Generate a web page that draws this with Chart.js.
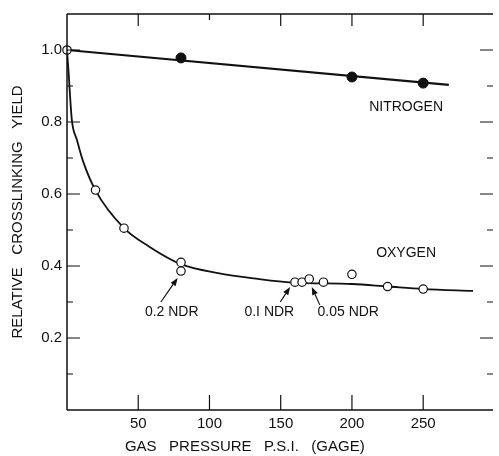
<!DOCTYPE html>
<html>
<head>
<meta charset="utf-8">
<script src="https://cdn.jsdelivr.net/npm/chart.js@4"></script>
<style>
  html, body { margin: 0; padding: 0; background: #fff; overflow: hidden; }
  #wrap { width: 499px; height: 456px; position: relative; }
</style>
</head>
<body>
<div id="wrap"><canvas id="c" width="499" height="456"></canvas></div>
<script>
// ---- data ----
const nitrogenX = [80, 200, 250];
const nitrogenY = [0.978, 0.925, 0.908];
const nitrogenFitX = [0, 268];
const nitrogenFitY = [1.0, 0.903];

const oxygenX = [0, 20, 40, 80, 80, 160, 165, 170, 180, 200, 225, 250];
const oxygenY = [1.0, 0.611, 0.505, 0.410, 0.386, 0.355, 0.355, 0.364, 0.355, 0.377, 0.343, 0.336];
const oxygenFitX = [0, 1, 3.4, 7, 11, 20, 40, 58, 80, 106, 134, 158, 200, 225, 250, 285];
const oxygenFitY = [1.0, 0.944, 0.806, 0.75, 0.694, 0.61, 0.505, 0.453, 0.405, 0.38, 0.364, 0.354, 0.350, 0.343, 0.336, 0.331];

const xTickValues = [50, 100, 150, 200, 250];
const yMajorTicks = [0.2, 0.4, 0.6, 0.8, 1.0];
const yMinorTicks = [0.1, 0.3, 0.5, 0.7, 0.9];

const seriesLabels = ["NITROGEN", "OXYGEN"];
const noteLabels = ["0.2 NDR", "0.I NDR", "0.05 NDR"];
const xTitle = "GAS   PRESSURE   P.S.I.   (GAGE)";
const yTitle = "RELATIVE   CROSSLINKING   YIELD";

// ---- annotation placement (data coordinates) ----
const textNotes = [
  { text: seriesLabels[0], x: 238, y: 0.842 },
  { text: seriesLabels[1], x: 238, y: 0.436 },
  { text: noteLabels[0], x: 73.5, y: 0.272 },
  { text: noteLabels[1], x: 142, y: 0.272 },
  { text: noteLabels[2], x: 197.4, y: 0.272 }
];
const arrowNotes = [
  { x0: 65.9, y0: 0.300, x1: 77.7, y1: 0.367 },
  { x0: 149.7, y0: 0.300, x1: 156.6, y1: 0.342 },
  { x0: 177.4, y0: 0.292, x1: 171.8, y1: 0.342 }
];
const xTitlePos = { x: 124.8 };

const pts = (xs, ys) => xs.map((x, i) => ({ x, y: ys[i] }));
const FONT = "'Liberation Sans', Arial, sans-serif";

const framePlugin = {
  id: 'frame',
  afterDraw(chart) {
    const { ctx, chartArea: a, scales: { x, y } } = chart;
    ctx.save();
    ctx.strokeStyle = '#111';
    ctx.lineWidth = 1.5;
    ctx.beginPath();
    ctx.moveTo(a.left, a.top); ctx.lineTo(a.left, a.bottom);
    ctx.moveTo(a.left, a.top); ctx.lineTo(a.right, a.top);
    ctx.moveTo(a.left, a.bottom); ctx.lineTo(a.right, a.bottom);
    ctx.stroke();
    ctx.lineWidth = 1.2;
    ctx.beginPath();
    xTickValues.forEach(v => {
      const px = x.getPixelForValue(v);
      ctx.moveTo(px, a.bottom); ctx.lineTo(px, a.bottom - 15);
      ctx.moveTo(px, a.top); ctx.lineTo(px, a.top + (v === 100 ? 6 : 12));
    });
    yMajorTicks.forEach(v => {
      const py = y.getPixelForValue(v);
      ctx.moveTo(a.left, py); ctx.lineTo(a.left + 13, py);
      ctx.moveTo(a.right, py); ctx.lineTo(a.right - 13, py);
    });
    yMinorTicks.forEach(v => {
      const py = y.getPixelForValue(v);
      ctx.moveTo(a.left, py); ctx.lineTo(a.left + 6, py);
      ctx.moveTo(a.right, py); ctx.lineTo(a.right - 6, py);
    });
    ctx.stroke();

    ctx.fillStyle = '#111';
    ctx.font = '14px ' + FONT;
    ctx.textAlign = 'center';
    ctx.textBaseline = 'middle';
    textNotes.forEach(n => {
      ctx.fillText(n.text, x.getPixelForValue(n.x), y.getPixelForValue(n.y));
    });
    ctx.font = '15px ' + FONT;
    ctx.fillText(xTitle, x.getPixelForValue(xTitlePos.x), chart.height - 9);

    ctx.lineWidth = 1.2;
    arrowNotes.forEach(n => {
      const x0 = x.getPixelForValue(n.x0), y0 = y.getPixelForValue(n.y0);
      const x1 = x.getPixelForValue(n.x1), y1 = y.getPixelForValue(n.y1);
      const ang = Math.atan2(y1 - y0, x1 - x0);
      const hl = 8, hw = 3;
      const bx = x1 - hl * Math.cos(ang), by = y1 - hl * Math.sin(ang);
      ctx.beginPath();
      ctx.moveTo(x0, y0); ctx.lineTo(bx, by);
      ctx.stroke();
      ctx.beginPath();
      ctx.moveTo(x1, y1);
      ctx.lineTo(bx + hw * Math.sin(ang), by - hw * Math.cos(ang));
      ctx.lineTo(bx - hw * Math.sin(ang), by + hw * Math.cos(ang));
      ctx.closePath();
      ctx.fill();
    });
    ctx.restore();
  }
};

new Chart(document.getElementById('c'), {
  type: 'scatter',
  data: {
    datasets: [
      { label: 'Nitrogen', data: pts(nitrogenX, nitrogenY), order: 0, clip: false,
        pointRadius: 5, pointBackgroundColor: '#111', pointBorderColor: '#111', pointBorderWidth: 1 },
      { label: 'Oxygen', data: pts(oxygenX, oxygenY), order: 0, clip: false,
        pointRadius: 4.2, pointBackgroundColor: '#fff', pointBorderColor: '#111', pointBorderWidth: 1.2 },
      { label: 'Nitrogen fit', data: pts(nitrogenFitX, nitrogenFitY), order: 1, showLine: true,
        pointRadius: 0, borderColor: '#111', borderWidth: 2.2 },
      { label: 'Oxygen fit', data: pts(oxygenFitX, oxygenFitY), order: 1, showLine: true,
        cubicInterpolationMode: 'monotone', pointRadius: 0, borderColor: '#111', borderWidth: 1.8 }
    ]
  },
  options: {
    responsive: false,
    animation: false,
    devicePixelRatio: 1,
    layout: { padding: { top: 14, right: 0, left: 0, bottom: 0 } },
    plugins: { legend: { display: false }, tooltip: { enabled: false } },
    scales: {
      x: {
        type: 'linear', min: 0, max: 299,
        grid: { display: false, drawTicks: false },
        border: { display: false },
        afterBuildTicks: s => { s.ticks = xTickValues.map(v => ({ value: v })); },
        ticks: {
          padding: 5, color: '#111', maxRotation: 0, minRotation: 0, autoSkip: false,
          font: { size: 15, family: FONT },
          callback: v => String(v)
        },
        title: { display: false },
        afterFit: s => { s.height = 46; }
      },
      y: {
        type: 'linear', min: 0, max: 1.1,
        grid: { display: false, drawTicks: false },
        border: { display: false },
        afterBuildTicks: s => { s.ticks = yMajorTicks.map(v => ({ value: v })); },
        ticks: {
          padding: 5, color: '#111', autoSkip: false,
          font: { size: 15, family: FONT },
          callback: v => v.toFixed(1)
        },
        title: { display: true, text: yTitle, color: '#111',
          font: { size: 15, family: FONT }, padding: { top: 9, bottom: 0 } },
        afterFit: s => { s.width = 67; }
      }
    }
  },
  plugins: [framePlugin]
});
</script>
</body>
</html>
